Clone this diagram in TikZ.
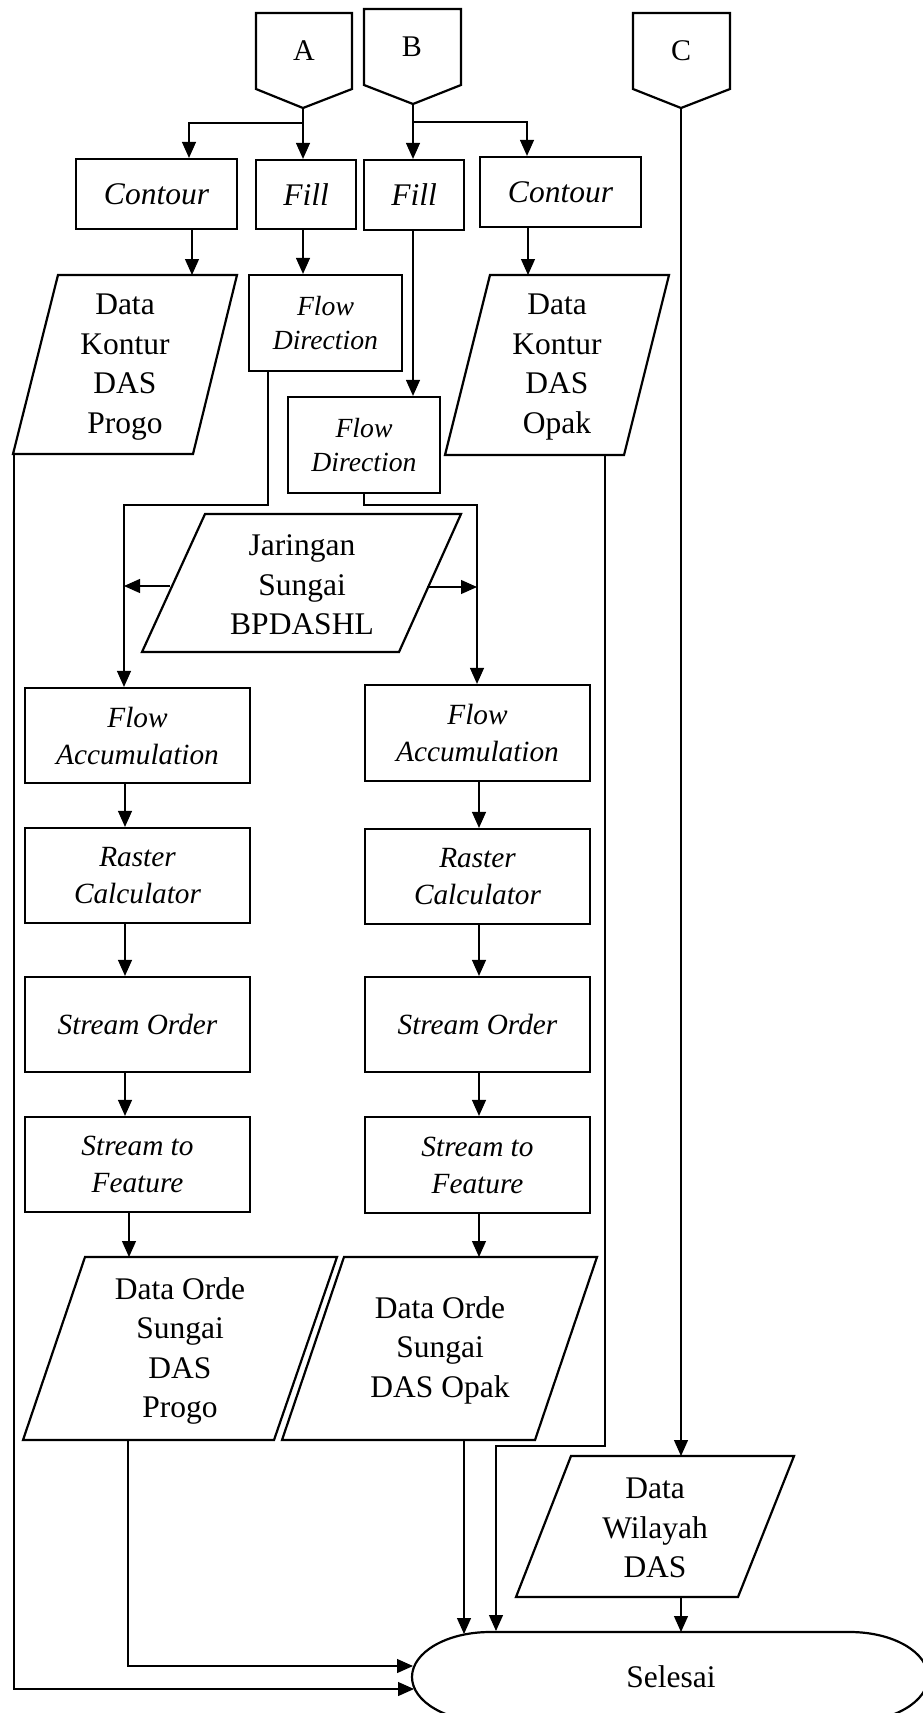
\documentclass[tikz,border=0pt]{standalone}
\usepackage{fontspec}
\setmainfont{Liberation Serif}
\usetikzlibrary{arrows.meta,calc}
\begin{document}
\begin{tikzpicture}[x=1pt,y=-1pt,
  outline/.style={line width=2.2pt, line join=miter},
  proc/.style={draw, outline, inner sep=0pt, align=center, font=\fontsize{29.3}{37}\selectfont\itshape},
  bigit/.style={font=\fontsize{31.5}{39}\selectfont\itshape},
  fdfont/.style={font=\fontsize{27.7}{34}\selectfont\itshape},
  txt/.style={inner sep=0pt, align=center, font=\fontsize{31.5}{39.5}\selectfont},
  letter/.style={inner sep=0pt, font=\fontsize{30}{36}\selectfont},
  conn/.style={line width=1.2pt},
  arr/.style={conn, -{Triangle[length=16pt,width=14pt]}}]

\useasboundingbox (0,0) rectangle (922,1713);

% ---------- off-page connectors ----------
\draw[outline] (256,13) -- (352,13) -- (352,89) -- (303,108) -- (256,89) -- cycle;
\node[letter] (A) at (304,51) {A};
\coordinate (Atip) at (303,108);
\draw[outline] (364,9) -- (461,9) -- (461,85) -- (413,104) -- (364,85) -- cycle;
\node[letter] (B) at (412,47) {B};
\coordinate (Btip) at (413,104);
\draw[outline] (633,13) -- (730,13) -- (730,89) -- (681,108) -- (633,89) -- cycle;
\node[letter] (C) at (681,51) {C};
\coordinate (Ctip) at (681,108);

% ---------- process boxes ----------
\node[proc, bigit, minimum width=161pt, minimum height=70pt] (contL) at (156.5,194) {Contour};
\node[proc, bigit, minimum width=100pt, minimum height=69pt] (fillA) at (306,194.5) {Fill};
\node[proc, bigit, minimum width=100pt, minimum height=70pt] (fillB) at (414,195) {Fill};
\node[proc, bigit, minimum width=161pt, minimum height=70pt] (contR) at (560.5,192) {Contour};
\node[proc, fdfont, minimum width=153pt, minimum height=96pt] (fdA) at (325.5,323) {Flow\\Direction};
\node[proc, fdfont, minimum width=152pt, minimum height=96pt] (fdB) at (364,445) {Flow\\Direction};

\node[proc, minimum width=225pt, minimum height=95pt] (faL) at (137.5,735.5) {Flow\\Accumulation};
\node[proc, minimum width=225pt, minimum height=96pt] (faR) at (477.5,733) {Flow\\Accumulation};
\node[proc, minimum width=225pt, minimum height=95pt] (rcL) at (137.5,875.5) {Raster\\Calculator};
\node[proc, minimum width=225pt, minimum height=95pt] (rcR) at (477.5,876.5) {Raster\\Calculator};
\node[proc, minimum width=225pt, minimum height=95pt] (soL) at (137.5,1024.5) {Stream Order};
\node[proc, minimum width=225pt, minimum height=95pt] (soR) at (477.5,1024.5) {Stream Order};
\node[proc, minimum width=225pt, minimum height=95pt] (sfL) at (137.5,1164.5) {Stream to\\Feature};
\node[proc, minimum width=225pt, minimum height=96pt] (sfR) at (477.5,1165) {Stream to\\Feature};

% ---------- data (parallelograms) ----------
\draw[outline] (58,275) -- (237,275) -- (193,454) -- (13,454) -- cycle;
\node[txt] (dkP) at (125,367) {Data\\Kontur\\DAS\\Progo};
\draw[outline] (490,275) -- (669,275) -- (624,455) -- (445,455) -- cycle;
\node[txt] (dkO) at (557,367) {Data\\Kontur\\DAS\\Opak};
\draw[outline] (205,514) -- (461,514) -- (399,652) -- (142,652) -- cycle;
\node[txt] (jar) at (302,585) {Jaringan\\Sungai\\BPDASHL};
\draw[outline] (85,1257) -- (337,1257) -- (274,1440) -- (23,1440) -- cycle;
\node[txt] (doP) at (180,1351) {Data Orde\\Sungai\\DAS\\Progo};
\draw[outline] (344,1257) -- (597,1257) -- (535,1440) -- (282,1440) -- cycle;
\node[txt] (doO) at (440,1350) {Data Orde\\Sungai\\DAS Opak};
\draw[outline] (571,1456) -- (794,1456) -- (738,1597) -- (516,1597) -- cycle;
\node[txt] (dw) at (655,1528) {Data\\Wilayah\\DAS};

% ---------- terminator ----------
\draw[outline] (490,1632) -- (850,1632) arc[start angle=-90, end angle=90, x radius=78, y radius=45]
  -- (490,1722) arc[start angle=90, end angle=270, x radius=78, y radius=45] -- cycle;
\node[txt] (sel) at (671,1677) {Selesai};

% ---------- connection points ----------
\coordinate (Asplit) at (303,123);
\coordinate (Bsplit) at (413,122);
\coordinate (dkPin) at (192,275);
\coordinate (dkOin) at (528,275);
\coordinate (dkPout) at (14,454);
\coordinate (dkOout) at (605,455);
\coordinate (jL) at (124,505);
\coordinate (jR) at (477,505);
\coordinate (jarL) at (170,586);
\coordinate (jarR) at (427,587);
\coordinate (colL) at (125,0);
\coordinate (colR) at (479,0);
\coordinate (doPin) at (129,1257);
\coordinate (doOin) at (479,1257);
\coordinate (doPout) at (128,1440);
\coordinate (doOout) at (464,1440);
\coordinate (bend) at (496,1446);
\coordinate (dwIn) at (681,1456);
\coordinate (dwOut) at (681,1597);
\coordinate (selT1) at (464,1634);
\coordinate (selT2) at (496,1631);
\coordinate (selT3) at (681,1632);
\coordinate (selL1) at (413,1666);
\coordinate (selL2) at (414,1689);

% ---------- connectors ----------
\draw[arr] (Atip) -- (Atip |- fillA.north);
\draw[arr] (Asplit) -| ([xshift=32.5pt]contL.north);
\draw[arr] (Btip) -- (Btip |- fillB.north);
\draw[arr] (Bsplit) -| ([xshift=-33.5pt]contR.north);
\draw[arr] (contL.south -| dkPin) -- (dkPin);
\draw[arr] (fillA.south -| Atip) -- (fdA.north -| Atip);
\draw[arr] (fillB.south -| Btip) -- (fdB.north -| Btip);
\draw[arr] (contR.south -| dkOin) -- (dkOin);
\draw[arr] ([xshift=-57.5pt]fdA.south) |- (jL) -- (jL |- faL.north);
\draw[arr] (fdB.south) |- (jR) -- (jR |- faR.north);
\draw[arr] (jarL) -- (jarL -| jL);
\draw[arr] (jarR) -- (jarR -| jR);
\draw[arr] (faL.south -| colL) -- (rcL.north -| colL);
\draw[arr] (faR.south -| colR) -- (rcR.north -| colR);
\draw[arr] (rcL.south -| colL) -- (soL.north -| colL);
\draw[arr] (rcR.south -| colR) -- (soR.north -| colR);
\draw[arr] (soL.south -| colL) -- (sfL.north -| colL);
\draw[arr] (soR.south -| colR) -- (sfR.north -| colR);
\draw[arr] (sfL.south -| doPin) -- (doPin);
\draw[arr] (sfR.south -| doOin) -- (doOin);
\draw[arr] (doPout) |- (selL1);
\draw[arr] (dkPout) |- (selL2);
\draw[arr] (doOout) -- (selT1);
\draw[arr] (dkOout) |- (bend) -- (selT2);
\draw[arr] (Ctip) -- (dwIn);
\draw[arr] (dwOut) -- (selT3);
\end{tikzpicture}
\end{document}
